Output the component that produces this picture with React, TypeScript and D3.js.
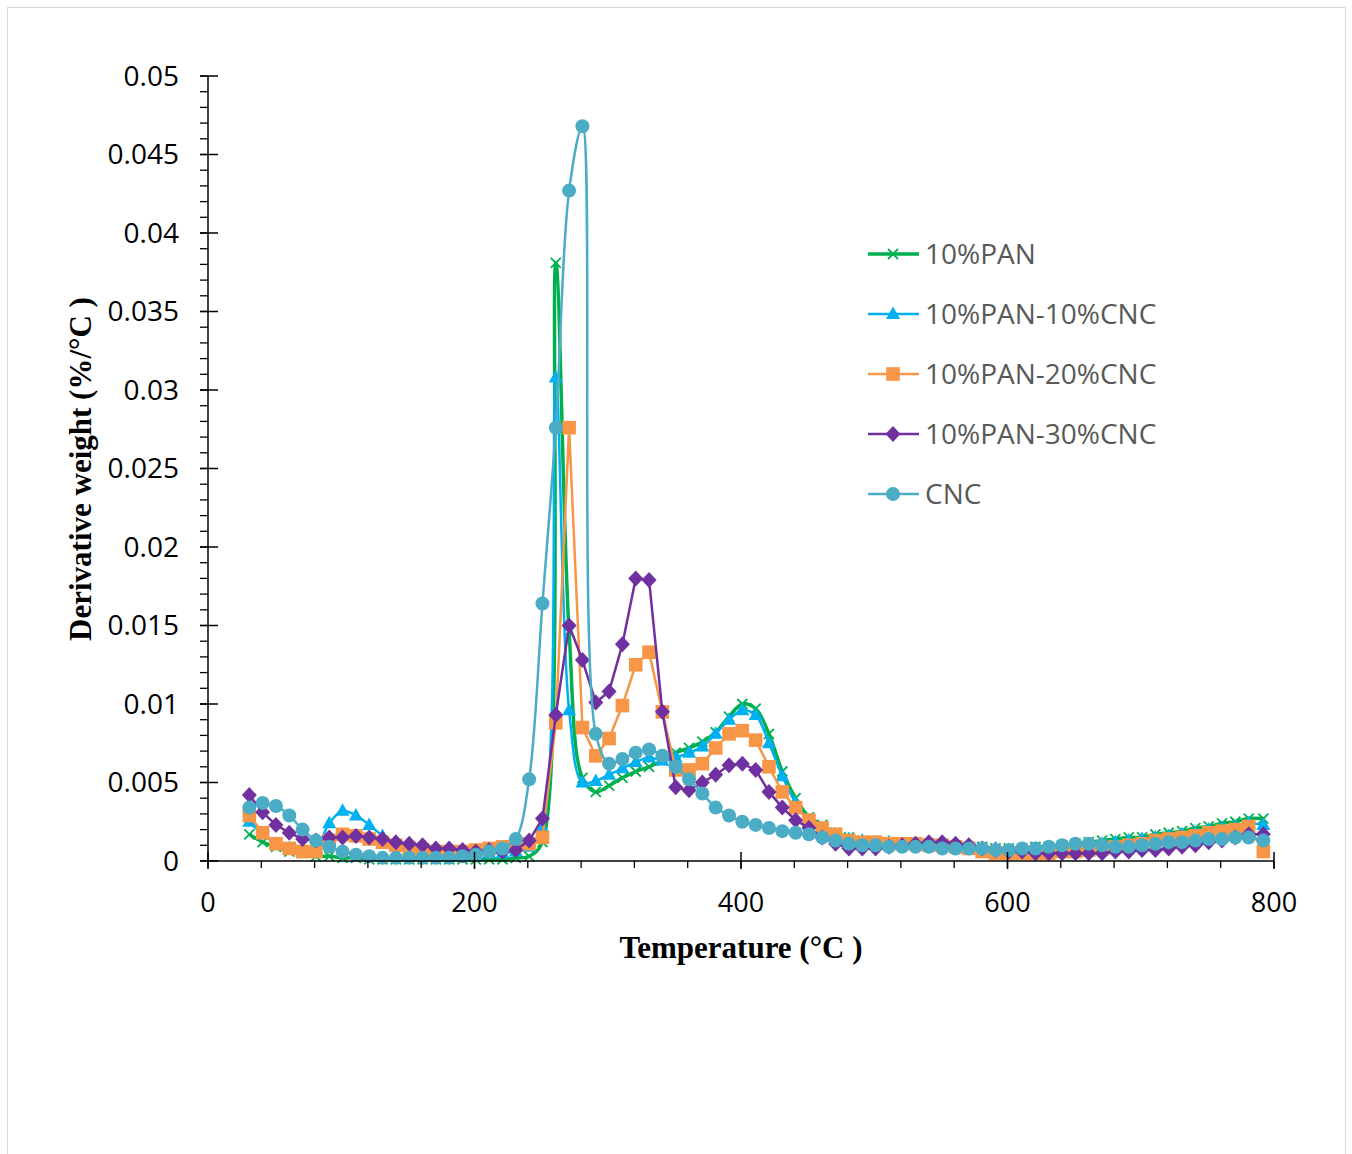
import React from 'react';
import * as d3 from 'd3';

const temps = [
  31, 41, 51, 61, 71, 81, 91, 101, 111, 121,
  131, 141, 151, 161, 171, 181, 191, 201, 211, 221,
  231, 241, 251, 261, 271, 281, 291, 301, 311, 321,
  331, 341, 351, 361, 371, 381, 391, 401, 411, 421,
  431, 441, 451, 461, 471, 481, 491, 501, 511, 521,
  531, 541, 551, 561, 571, 581, 591, 601, 611, 621,
  631, 641, 651, 661, 671, 681, 691, 701, 711, 721,
  731, 741, 751, 761, 771, 781, 792,
];

const pan10 = [
  0.0017, 0.0012, 0.0009, 0.0006, 0.0005, 0.0003, 0.0003, 0.0002, 0.0002, 0.0001,
  0.0001, 0.0001, 0.0001, 0.0001, 0.0001, 0.0001, 0.0001, 0.0001, 0.0001, 0.0001,
  0.0002, 0.0003, 0.0012, 0.0381, 0.0146, 0.0053, 0.0044, 0.0048, 0.0053, 0.0057,
  0.0060, 0.0064, 0.0069, 0.0072, 0.0076, 0.0082, 0.0092, 0.0100, 0.0097, 0.0081,
  0.0057, 0.0040, 0.0028, 0.0023, 0.0018, 0.0015, 0.0013, 0.0012, 0.0012, 0.0011,
  0.0011, 0.0011, 0.0010, 0.0010, 0.0009, 0.0009, 0.0008, 0.0008, 0.0008, 0.0009,
  0.0009, 0.0010, 0.0011, 0.0012, 0.0013, 0.0014, 0.0015, 0.0015, 0.0017, 0.0018,
  0.0019, 0.0021, 0.0022, 0.0024, 0.0025, 0.0027, 0.0027,
];

const pan10cnc10 = [
  0.0025, 0.0017, 0.0011, 0.0008, 0.0006, 0.0008, 0.0024, 0.0032, 0.0029, 0.0023,
  0.0016, 0.0010, 0.0007, 0.0006, 0.0005, 0.0004, 0.0004, 0.0004, 0.0005, 0.0005,
  0.0006, 0.0009, 0.0021, 0.0308, 0.0096, 0.0050, 0.0051, 0.0055, 0.0059, 0.0063,
  0.0066, 0.0064, 0.0066, 0.0069, 0.0073, 0.0081, 0.0090, 0.0096, 0.0093, 0.0075,
  0.0054, 0.0037, 0.0026, 0.0021, 0.0017, 0.0014, 0.0013, 0.0012, 0.0012, 0.0011,
  0.0011, 0.0010, 0.0010, 0.0010, 0.0009, 0.0008, 0.0008, 0.0007, 0.0007, 0.0008,
  0.0008, 0.0009, 0.0010, 0.0010, 0.0011, 0.0012, 0.0013, 0.0014, 0.0015, 0.0016,
  0.0017, 0.0018, 0.0020, 0.0021, 0.0022, 0.0024, 0.0023,
];

const pan10cnc20 = [
  0.0029, 0.0018, 0.0011, 0.0008, 0.0006, 0.0006, 0.0013, 0.0017, 0.0016, 0.0014,
  0.0012, 0.0010, 0.0008, 0.0007, 0.0006, 0.0006, 0.0006, 0.0007, 0.0008, 0.0009,
  0.0010, 0.0011, 0.0015, 0.0088, 0.0276, 0.0085, 0.0067, 0.0078, 0.0099, 0.0125,
  0.0133, 0.0095, 0.0058, 0.0058, 0.0062, 0.0072, 0.0081, 0.0083, 0.0077, 0.0060,
  0.0044, 0.0034, 0.0026, 0.0021, 0.0017, 0.0013, 0.0012, 0.0012, 0.0011, 0.0011,
  0.0011, 0.0010, 0.0010, 0.0009, 0.0008, 0.0006, 0.0005, 0.0005, 0.0005, 0.0005,
  0.0005, 0.0006, 0.0006, 0.0007, 0.0008, 0.0009, 0.0010, 0.0011, 0.0013, 0.0014,
  0.0015, 0.0016, 0.0018, 0.0019, 0.0020, 0.0022, 0.0006,
];

const pan10cnc30 = [
  0.0042, 0.0031, 0.0023, 0.0018, 0.0014, 0.0013, 0.0015, 0.0015, 0.0016, 0.0015,
  0.0014, 0.0012, 0.0011, 0.0010, 0.0008, 0.0008, 0.0007, 0.0006, 0.0007, 0.0006,
  0.0007, 0.0013, 0.0027, 0.0093, 0.0150, 0.0128, 0.0101, 0.0108, 0.0138, 0.0180,
  0.0179, 0.0095, 0.0047, 0.0045, 0.0050, 0.0055, 0.0061, 0.0062, 0.0058, 0.0044,
  0.0034, 0.0026, 0.0021, 0.0015, 0.0011, 0.0008, 0.0008, 0.0008, 0.0009, 0.0010,
  0.0011, 0.0012, 0.0012, 0.0011, 0.0010, 0.0008, 0.0007, 0.0006, 0.0006, 0.0005,
  0.0005, 0.0005, 0.0005, 0.0005, 0.0005, 0.0006, 0.0006, 0.0007, 0.0007, 0.0008,
  0.0009, 0.0010, 0.0012, 0.0013, 0.0015, 0.0017, 0.0017,
];

const cnc = [
  0.0034, 0.0037, 0.0035, 0.0029, 0.0020, 0.0013, 0.0009, 0.0006, 0.0004, 0.0003,
  0.0002, 0.0002, 0.0002, 0.0002, 0.0002, 0.0002, 0.0003, 0.0004, 0.0006, 0.0008,
  0.0014, 0.0052, 0.0164, 0.0276, 0.0427, 0.0468, 0.0081, 0.0062, 0.0065, 0.0069,
  0.0071, 0.0067, 0.0060, 0.0052, 0.0043, 0.0034, 0.0029, 0.0025, 0.0023, 0.0021,
  0.0019, 0.0018, 0.0017, 0.0015, 0.0013, 0.0011, 0.0010, 0.0010, 0.0009, 0.0009,
  0.0009, 0.0009, 0.0008, 0.0008, 0.0008, 0.0008, 0.0007, 0.0007, 0.0008, 0.0008,
  0.0009, 0.0010, 0.0011, 0.0011, 0.0010, 0.0009, 0.0009, 0.0010, 0.0011, 0.0012,
  0.0012, 0.0013, 0.0014, 0.0014, 0.0015, 0.0015, 0.0013,
];

const seriesNames = ['10%PAN', '10%PAN-10%CNC', '10%PAN-20%CNC', '10%PAN-30%CNC', 'CNC'];
const seriesValues = [pan10, pan10cnc10, pan10cnc20, pan10cnc30, cnc];

const xTickValues = [0, 200, 400, 600, 800];
const xTickLabels = ['0', '200', '400', '600', '800'];
const yTickValues = [0, 0.005, 0.01, 0.015, 0.02, 0.025, 0.03, 0.035, 0.04, 0.045, 0.05];
const yTickLabels = ['0', '0.005', '0.01', '0.015', '0.02', '0.025', '0.03', '0.035', '0.04', '0.045', '0.05'];

const styles = [
  { color: '#00B050', width: 3.5, smooth: true, marker: 'x' },
  { color: '#00B0F0', width: 2.5, smooth: true, marker: 'triangle' },
  { color: '#F79646', width: 2.5, smooth: false, marker: 'square' },
  { color: '#7030A0', width: 2.5, smooth: false, marker: 'diamond' },
  { color: '#4BACC6', width: 2.5, smooth: true, marker: 'circle' },
];

function Marker({ type, color, cx, cy }: { type: string; color: string; cx: number; cy: number }) {
  const t = `translate(${cx},${cy})`;
  if (type === 'x') {
    return <path transform={t} d="M-5,-5L5,5M-5,5L5,-5" stroke={color} strokeWidth={1.8} fill="none" />;
  }
  if (type === 'triangle') {
    return <path transform={t} d="M0,-7.5L7,5L-7,5Z" fill={color} />;
  }
  if (type === 'square') {
    return <rect x={cx - 6.8} y={cy - 6.8} width={13.6} height={13.6} fill={color} />;
  }
  if (type === 'diamond') {
    return <path transform={t} d="M0,-8L7.5,0L0,8L-7.5,0Z" fill={color} />;
  }
  return <circle cx={cx} cy={cy} r={7} fill={color} />;
}

export default function App() {
  const x = d3.scaleLinear().domain([0, 800]).range([208, 1274]);
  const y = d3.scaleLinear().domain([0, 0.05]).range([861, 76]);

  const yMinor = d3.range(0, 51).map((i) => i * 0.001);
  const xMinor = d3.range(0, 21).map((i) => i * 40);

  const tickFont = "'Open Sans', sans-serif";
  const serif = "'Liberation Serif', 'Times New Roman', serif";

  return (
    <svg width={1352} height={1154} style={{ position: 'absolute', left: 0, top: 0, display: 'block' }}>
      <rect x={0} y={0} width={1352} height={1154} fill="#ffffff" />
      <rect x={7.5} y={7.5} width={1338} height={1160} fill="none" stroke="#D9D9D9" strokeWidth={1} />

      {seriesValues.map((vals, si) => {
        const st = styles[si];
        const pts = vals.map((v, i) => [x(temps[i]), y(v)] as [number, number]);
        const line = d3
          .line<[number, number]>()
          .x((d) => d[0])
          .y((d) => d[1])
          .curve(st.smooth ? d3.curveCatmullRom.alpha(0.5) : d3.curveLinear);
        return (
          <g key={si}>
            <path d={line(pts) || ''} fill="none" stroke={st.color} strokeWidth={st.width} strokeLinejoin="round" />
            {pts.map((p, i) => (
              <Marker key={i} type={st.marker} color={st.color} cx={p[0]} cy={p[1]} />
            ))}
          </g>
        );
      })}

      <line x1={208} x2={208} y1={y(0.05)} y2={y(0)} stroke="#000" strokeWidth={1.5} />
      {yMinor.map((v, i) => (
        <line key={'ym' + i} x1={200} x2={208} y1={y(v)} y2={y(v)} stroke="#000" strokeWidth={1.3} />
      ))}
      {yTickValues.map((v, i) => (
        <g key={'yt' + i}>
          <line x1={200} x2={218} y1={y(v)} y2={y(v)} stroke="#000" strokeWidth={1.5} />
          <text x={179} y={y(v)} dy="0.35em" textAnchor="end" fontFamily={tickFont} fontSize={28} fill="#000">
            {yTickLabels[i]}
          </text>
        </g>
      ))}

      <line x1={x(0)} x2={x(800)} y1={861} y2={861} stroke="#000" strokeWidth={1.5} />
      {xMinor.map((v, i) => (
        <line key={'xm' + i} x1={x(v)} x2={x(v)} y1={861} y2={868} stroke="#000" strokeWidth={1.3} />
      ))}
      {xTickValues.map((v, i) => (
        <g key={'xt' + i}>
          <line x1={x(v)} x2={x(v)} y1={852} y2={869} stroke="#000" strokeWidth={1.5} />
          <text x={x(v)} y={912} textAnchor="middle" fontFamily={tickFont} fontSize={27} fill="#000">
            {xTickLabels[i]}
          </text>
        </g>
      ))}

      <text
        transform={`translate(91,469) rotate(-90)`}
        textAnchor="middle"
        fontFamily={serif}
        fontWeight="bold"
        fontSize={31}
        fill="#000"
      >
        Derivative weight (%/°C )
      </text>
      <text x={741} y={958} textAnchor="middle" fontFamily={serif} fontWeight="bold" fontSize={31} fill="#000">
        Temperature (°C )
      </text>

      {seriesNames.map((name, i) => {
        const st = styles[i];
        const ly = 254 + i * 60;
        return (
          <g key={'lg' + i}>
            <line x1={868} x2={919} y1={ly} y2={ly} stroke={st.color} strokeWidth={st.width} />
            <Marker type={st.marker} color={st.color} cx={893} cy={ly} />
            <text x={925} y={ly} dy="0.36em" fontFamily={tickFont} fontSize={28} fill="#595959">
              {name}
            </text>
          </g>
        );
      })}
    </svg>
  );
}
